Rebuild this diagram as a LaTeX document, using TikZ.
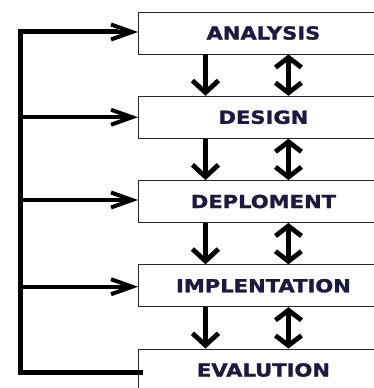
\documentclass[tikz,border=0pt]{standalone}
\usepackage{fontspec}
\newfontfamily\boxfont[FakeStretch=1.17,FakeBold=1.6]{DejaVu Sans Bold}
\usetikzlibrary{arrows.meta}
\definecolor{navytext}{RGB}{28,26,64}
\begin{document}
\begin{tikzpicture}[x=1pt,y=1pt,
  stage/.style={draw=black!85, line width=0.9pt, minimum width=250pt, minimum height=42pt,
    anchor=west, inner sep=0pt, text=navytext,
    font=\boxfont\fontsize{18}{20}\selectfont},
  downflow/.style={line width=4.8pt, -{Straight Barb[length=12pt,width=26pt]}},
  twoway/.style={line width=4.8pt, {Straight Barb[length=10pt,width=26pt]}-{Straight Barb[length=10pt,width=26pt]}},
  feed/.style={line width=5pt, line join=miter},
  feedarrow/.style={line width=4pt, -{Straight Barb[length=21pt,width=15pt]}}]
\useasboundingbox (0,0) rectangle (374,388);
\clip (0,0) rectangle (374,388);
\node[stage] (A) at (138,355) {ANALYSIS};
\node[stage] (D) at (138,270.75) {DESIGN};
\node[stage] (P) at (138,186.5) {DEPLOMENT};
\node[stage] (I) at (138,102.25) {IMPLENTATION};
\node[stage] (E) at (138,18) {EVALUTION};
\coordinate (L) at (20,356);
% vertical flow arrows
\foreach \u/\v in {A/D,D/P,P/I,I/E}{
  \draw[downflow] ([xshift=-58pt]\u.south) -- ([xshift=-58pt]\v.north);
  \draw[twoway] ([xshift=25pt]\u.south) -- ([xshift=25pt]\v.north);
}
% feedback line
\draw[feed] ([xshift=5pt,yshift=-3pt]E.west) -| (L) -- ([xshift=-20pt]L -| A.west);
\draw[feedarrow] ([xshift=-2pt]L) -- (L -| A.west);
\draw[feedarrow] (L |- D.west) -- (D.west);
\draw[feedarrow] ([yshift=1.5pt]L |- P.west) -- ([yshift=1.5pt]P.west);
\draw[feedarrow] ([yshift=-1pt]L |- I.west) -- ([yshift=-1pt]I.west);
\end{tikzpicture}
\end{document}
